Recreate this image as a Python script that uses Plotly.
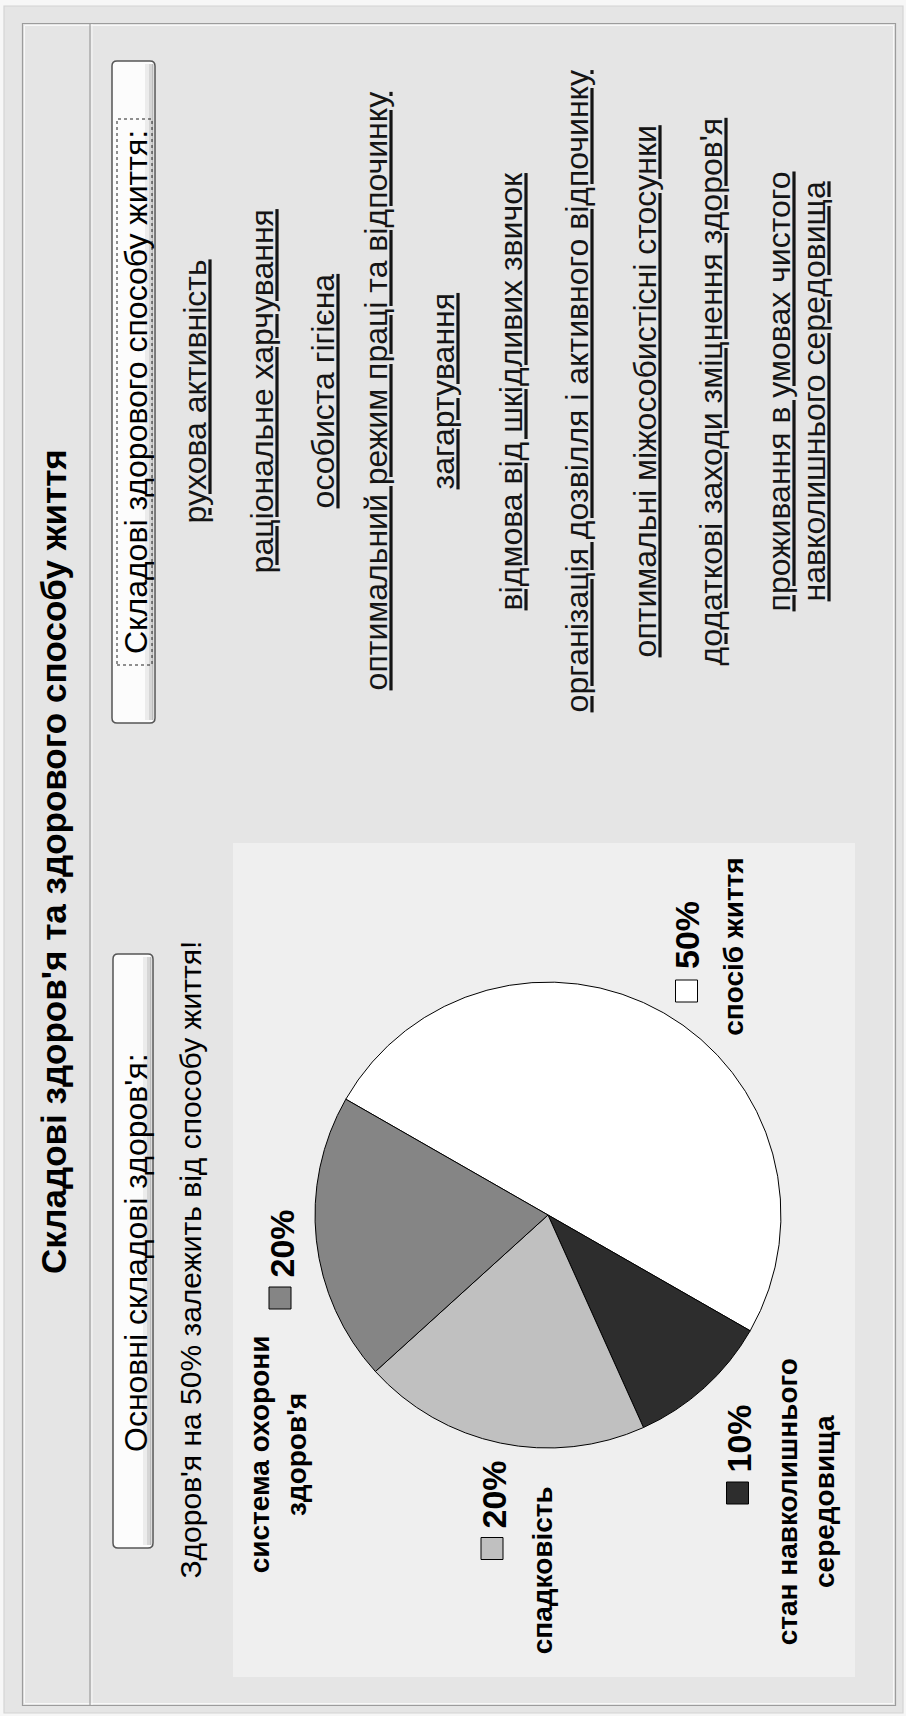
import plotly.graph_objects as go

# ---------------- data ----------------
title_text = "Складові здоров'я та здорового способу життя"
lifestyle_button = "Складові здорового способу життя:"
health_button = "Основні складові здоров'я:"
subtitle_text = "Здоров'я на 50% залежить від способу життя!"

lifestyle_items = [
    "рухова активність",
    "раціональне харчування",
    "особиста гігієна",
    "оптимальний режим праці та відпочинку",
    "загартування",
    "відмова від шкідливих звичок",
    "організація дозвілля і активного відпочинку",
    "оптимальні міжособистісні стосунки",
    "додаткові заходи зміцнення здоров'я",
    "проживання в умовах чистого\nнавколишнього середовища",
]

health_factors = ["спосіб життя", "стан навколишнього середовища",
                  "спадковість", "система охорони здоров'я"]
health_shares = [50, 10, 20, 20]
factor_label_lines = [["спосіб життя"], ["стан навколишнього", "середовища"],
                      ["спадковість"], ["система охорони", "здоров'я"]]

# ---------------- styles / layout ----------------
factor_colors = ["#ffffff", "#2d2d2d", "#c0c0c0", "#858585"]
W, H = 906, 1716
FONT = "Liberation Sans, Arial, sans-serif"


def px(x):
    return x / W


def py(y):
    return 1 - y / H


def P(x, y):
    return f"{px(x):.5f},{py(y):.5f}"


def rrect_path(x0, y0, x1, y1, r):
    return (f"M{P(x0 + r, y0)} L{P(x1 - r, y0)} Q{P(x1, y0)} {P(x1, y0 + r)} "
            f"L{P(x1, y1 - r)} Q{P(x1, y1)} {P(x1 - r, y1)} L{P(x0 + r, y1)} "
            f"Q{P(x0, y1)} {P(x0, y1 - r)} L{P(x0, y0 + r)} Q{P(x0, y0)} {P(x0 + r, y0)} Z")


shapes = []
annotations = []


def rect(x0, y0, x1, y1, fill=None, line=None, lw=1, dash=None, layer="above"):
    d = dict(type="rect", xref="paper", yref="paper",
             x0=px(x0), x1=px(x1), y0=py(y1), y1=py(y0), layer=layer,
             fillcolor=fill if fill else "rgba(0,0,0,0)",
             line=dict(color=line if line else "rgba(0,0,0,0)", width=lw if line else 0))
    if dash and line:
        d["line"]["dash"] = dash
    shapes.append(d)


def vline(x, y0, y1, color, lw=1):
    shapes.append(dict(type="line", xref="paper", yref="paper", x0=px(x), x1=px(x),
                       y0=py(y0), y1=py(y1), line=dict(color=color, width=lw), layer="below"))


def label(text, cx, cy, size, color="#000000"):
    annotations.append(dict(text=text, xref="paper", yref="paper", x=px(cx), y=py(cy),
                            xanchor="center", yanchor="middle", showarrow=False,
                            textangle=-90, align="center",
                            font=dict(family=FONT, size=size, color=color)))


# frames
rect(4, 6, 903, 1713, fill="#e5e5e5", line="#d4d4d4", lw=1.2, layer="below")
rect(22.5, 23.5, 895.5, 1705.5, line="#9c9c9c", lw=1.2, layer="below")
rect(24.5, 25.5, 893.5, 1703.5, line="#f8f8f8", lw=1, layer="below")
vline(90, 24, 1705, "#9c9c9c", 1.2)
vline(92, 24, 1705, "#f8f8f8", 1)

# chart area
rect(233, 843, 855, 1677, fill="#efefef", layer="below")

# buttons
for (bx0, by0, bx1, by1) in [(112, 61, 155, 723), (113, 954, 153, 1548)]:
    shapes.append(dict(type="path", xref="paper", yref="paper",
                       path=rrect_path(bx0, by0, bx1, by1, 5),
                       fillcolor="#fcfcfc", line=dict(color="#555555", width=1.5)))
    rect(bx1 - 10, by0 + 3, bx1 - 6, by1 - 3, fill="#ececec")
    rect(bx1 - 6, by0 + 3, bx1 - 3, by1 - 3, fill="#d6d6d6")
    rect(bx1 - 3, by0 + 3, bx1 - 1.5, by1 - 3, fill="#bdbdbd")
rect(117, 119, 152, 665, line="#222222", lw=1, dash="dot")

# texts
label(f"<b>{title_text}</b>", 53, 862, 35)
label(lifestyle_button, 136, 392, 32)
label(health_button, 136, 1253, 32)
label(subtitle_text, 189.5, 1260, 30)

link_x = [195.4, 262.4, 323.4, 376.4, 443.4, 511.4, 577.4, 645.4, 711.4, 779.4, 814.4]
lines = []
for item in lifestyle_items:
    lines.extend(item.split("\n"))
for t, x in zip(lines, link_x):
    label(f"<u>{t}</u>", x, 391, 32, "#151515")

# pie
pie_cx, pie_cy, pie_r = 548, 1215, 233
fig = go.Figure(go.Pie(
    labels=health_factors, values=health_shares, sort=False,
    direction="clockwise", rotation=-60.2,
    marker=dict(colors=factor_colors, line=dict(color="#000000", width=1)),
    textinfo="none", hoverinfo="label+percent", showlegend=False,
    domain=dict(x=[px(pie_cx - pie_r), px(pie_cx + pie_r)],
                y=[py(pie_cy + pie_r), py(pie_cy - pie_r)]),
))

# pie labels: percentage line with colour key, then category name
pct_pos = [(687, 935), (738, 1438.5), (493, 1494.5), (281, 1243.5)]
key_pos = [(675.5, 980), (726.5, 1482), (481, 1537.5), (269, 1287)]
name_pos = [(733.3, 946.5), (805.3, 1502), (542.3, 1570), (277.3, 1454)]
for i, share in enumerate(health_shares):
    label(f"<b>{share}%</b>", pct_pos[i][0], pct_pos[i][1], 34)
    kx, ky = key_pos[i]
    rect(kx, ky, kx + 22, ky + 22, fill=factor_colors[i], line="#000000", lw=1)
    label("<b>" + "<br>".join(factor_label_lines[i]) + "</b>",
          name_pos[i][0], name_pos[i][1], 28)

fig.update_layout(
    width=W, height=H, margin=dict(l=0, r=0, t=0, b=0),
    paper_bgcolor="#f7f7f7", plot_bgcolor="#f7f7f7",
    shapes=shapes, annotations=annotations,
)

fig.write_html("out.html")
